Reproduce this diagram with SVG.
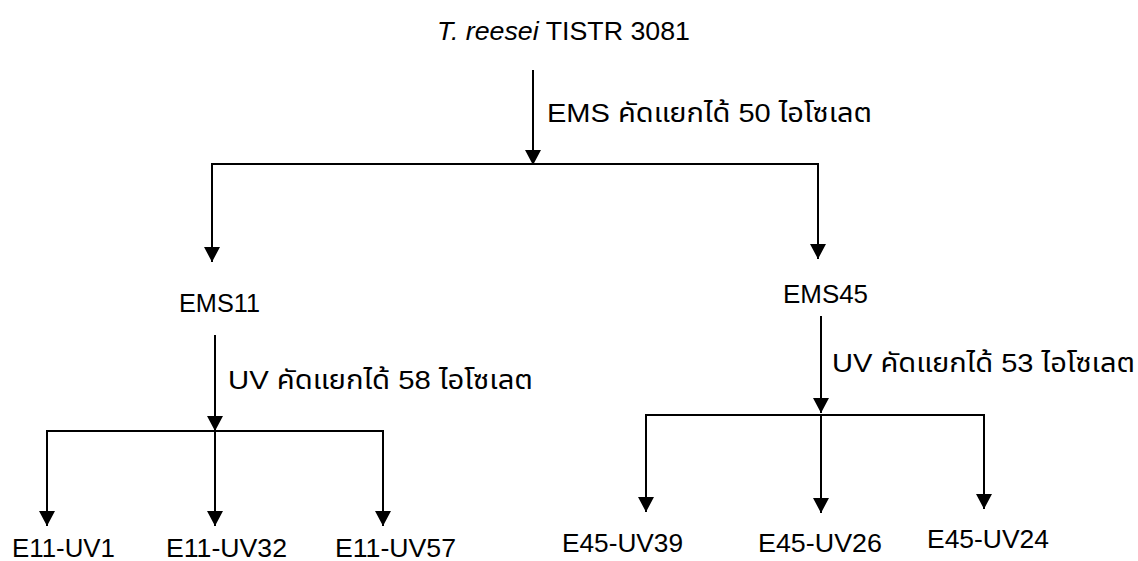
<svg xmlns="http://www.w3.org/2000/svg" width="1138" height="561" viewBox="0 0 1138 561">
<style>
text{font-family:"Liberation Sans","Noto Sans Thai","Noto Sans","DejaVu Sans",sans-serif;font-size:26px;fill:#000}
.c{stroke:#000;stroke-width:2;fill:none}
.a{marker-end:url(#ah)}
</style>
<defs>
<marker id="ah" viewBox="0 0 15 16" refX="15" refY="8" markerWidth="15" markerHeight="16" markerUnits="userSpaceOnUse" orient="auto">
<path d="M0,0 L15,8 L0,16 Z" fill="#000"/>
</marker>
</defs>
<rect width="1138" height="561" fill="#fff"/>
<g id="connectors">
<line class="c a" x1="533" y1="70" x2="533" y2="165"/>
<polyline class="c" points="212,262 212,164 818,164 818,259"/>
<line class="c a" x1="212" y1="170" x2="212" y2="262"/>
<line class="c a" x1="818" y1="170" x2="818" y2="259"/>
<line class="c a" x1="215" y1="335" x2="215" y2="431"/>
<polyline class="c" points="47,526 47,431 383,431 383,526"/>
<line class="c a" x1="47" y1="440" x2="47" y2="526"/>
<line class="c a" x1="215" y1="431" x2="215" y2="526"/>
<line class="c a" x1="383" y1="440" x2="383" y2="526"/>
<line class="c a" x1="821" y1="316" x2="821" y2="413"/>
<polyline class="c" points="646,512 646,415 984,415 984,509"/>
<line class="c a" x1="646" y1="425" x2="646" y2="512"/>
<line class="c a" x1="821" y1="415" x2="821" y2="513"/>
<line class="c a" x1="984" y1="425" x2="984" y2="509"/>
</g>
<g id="root"><text x="437" y="40" textLength="253" lengthAdjust="spacingAndGlyphs"><tspan font-style="italic">T. reesei</tspan> TISTR 3081</text></g>
<g id="label-ems"><text x="547" y="122" textLength="325" lengthAdjust="spacingAndGlyphs">EMS คัดแยกได้ 50 ไอโซเลต</text></g>
<g id="ems11"><text x="179" y="312" textLength="81" lengthAdjust="spacingAndGlyphs">EMS11</text></g>
<g id="ems45"><text x="783" y="303" textLength="85" lengthAdjust="spacingAndGlyphs">EMS45</text></g>
<g id="label-uv58"><text x="228" y="389" textLength="305" lengthAdjust="spacingAndGlyphs">UV คัดแยกได้ 58 ไอโซเลต</text></g>
<g id="label-uv53"><text x="832" y="372" textLength="303" lengthAdjust="spacingAndGlyphs">UV คัดแยกได้ 53 ไอโซเลต</text></g>
<g id="e11-uv1"><text x="12" y="557" textLength="103" lengthAdjust="spacingAndGlyphs">E11-UV1</text></g>
<g id="e11-uv32"><text x="166" y="557" textLength="121" lengthAdjust="spacingAndGlyphs">E11-UV32</text></g>
<g id="e11-uv57"><text x="335" y="557" textLength="121" lengthAdjust="spacingAndGlyphs">E11-UV57</text></g>
<g id="e45-uv39"><text x="562" y="552" textLength="121" lengthAdjust="spacingAndGlyphs">E45-UV39</text></g>
<g id="e45-uv26"><text x="758" y="552" textLength="124" lengthAdjust="spacingAndGlyphs">E45-UV26</text></g>
<g id="e45-uv24"><text x="927" y="548" textLength="122" lengthAdjust="spacingAndGlyphs">E45-UV24</text></g>
</svg>
